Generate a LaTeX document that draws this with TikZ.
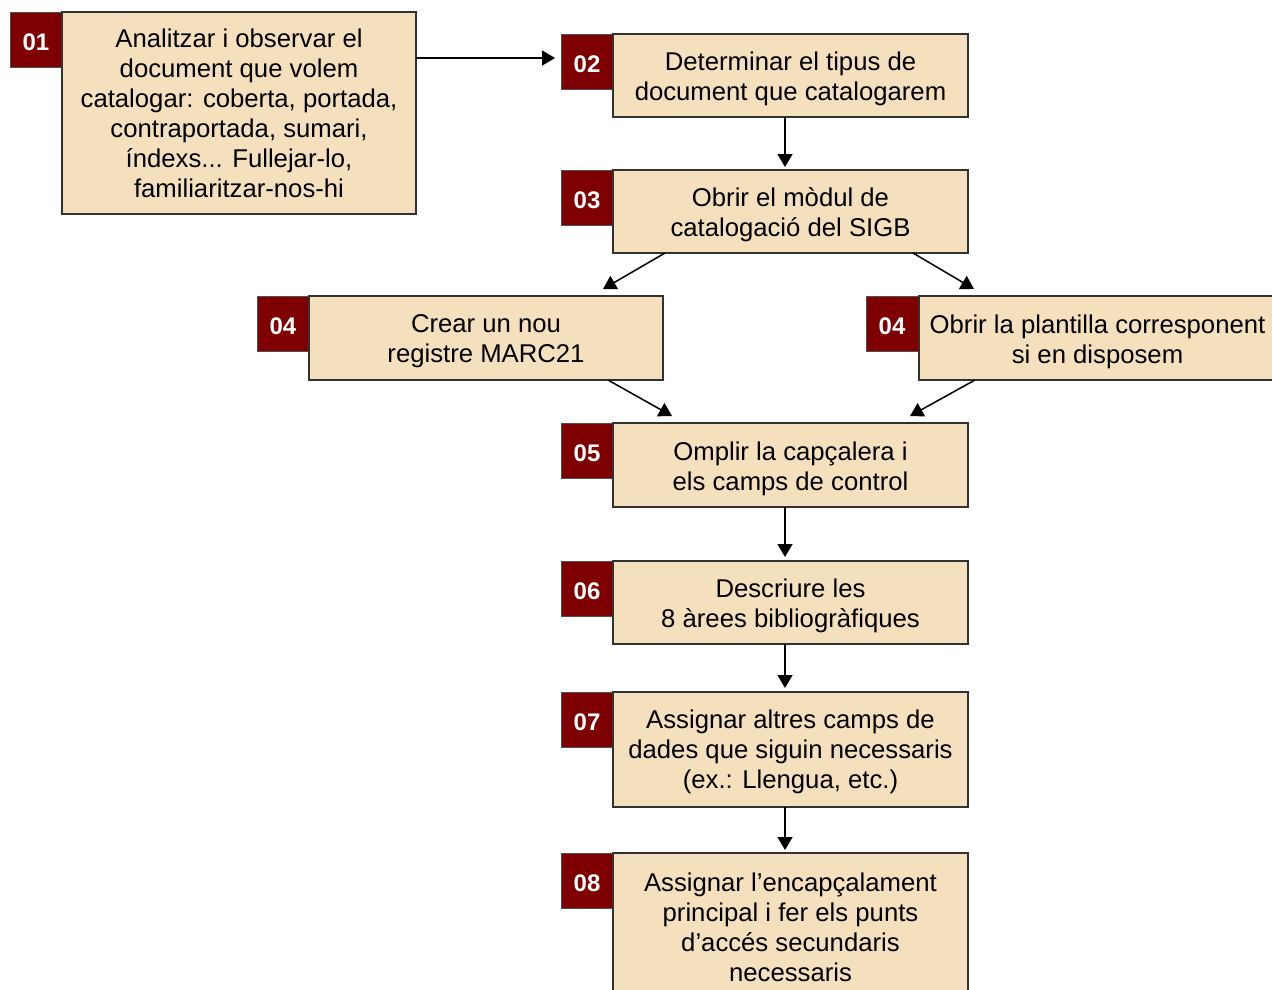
\documentclass[tikz,border=0pt]{standalone}
\usepackage{fontspec}
\setmainfont{Liberation Sans}
\usetikzlibrary{arrows.meta,calc}
\definecolor{boxfill}{RGB}{245,224,190}
\definecolor{badgefill}{RGB}{127,0,0}
\definecolor{edgecol}{RGB}{50,50,50}
\newcommand{\bnum}[1]{\raisebox{-2.5pt}[\height][\depth]{#1}}
\begin{document}
\begin{tikzpicture}[x=1pt,y=-1pt,
  mainbox/.style={draw=edgecol, line width=1.6pt, fill=boxfill, anchor=north west, outer sep=0pt, inner sep=0pt},
  boxtext/.style={align=center, inner sep=0pt, yshift=-3.5pt, font=\fontsize{25.7}{30}\selectfont},
  badge/.style={draw=edgecol!85, line width=1pt, fill=badgefill, anchor=north west, minimum width=52pt, minimum height=55pt, outer sep=0pt, inner sep=0pt, text=white, font=\fontsize{24}{26}\selectfont\bfseries},
  arr/.style={draw=black, line width=1.5pt, -{Triangle[width=15pt,length=13pt]}}]
\useasboundingbox (0,0) rectangle (1272,989);
\clip (0,0) rectangle (1272,989);

% badges
\node[badge] (n1) at (10,12) {\bnum{01}};
\node[badge] (n2) at (561,34) {\bnum{02}};
\node[badge] (n3) at (561,170) {\bnum{03}};
\node[badge] (n4l) at (257,296) {\bnum{04}};
\node[badge] (n4r) at (866,296) {\bnum{04}};
\node[badge] (n5) at (561,423) {\bnum{05}};
\node[badge] (n6) at (561,561) {\bnum{06}};
\node[badge] (n7) at (561,692) {\bnum{07}};
\node[badge] (n8) at (561,853) {\bnum{08}};

% main boxes
\node[mainbox, minimum width=354pt, minimum height=202pt,
  label={[boxtext, yshift=3pt]center:{Analitzar i observar el\\document que volem\\catalogar: coberta, portada,\\contraportada, sumari,\\índexs... Fullejar-lo,\\familiaritzar-nos-hi}}] (b1) at (62,12) {};
\node[mainbox, minimum width=355pt, minimum height=83pt,
  label={[boxtext]center:{Determinar el tipus de\\document que catalogarem}}] (b2) at (613,34) {};
\node[mainbox, minimum width=355pt, minimum height=83pt,
  label={[boxtext]center:{Obrir el mòdul de\\catalogació del SIGB}}] (b3) at (613,170) {};
\node[mainbox, minimum width=354pt, minimum height=84pt,
  label={[boxtext]center:{Crear un nou\\registre MARC21}}] (b4l) at (309,296) {};
\node[mainbox, minimum width=357pt, minimum height=84pt,
  label={[boxtext]center:{Obrir la plantilla corresponent\\si en disposem}}] (b4r) at (919,296) {};
\node[mainbox, minimum width=355pt, minimum height=84pt,
  label={[boxtext]center:{Omplir la capçalera i\\els camps de control}}] (b5) at (613,423) {};
\node[mainbox, minimum width=355pt, minimum height=83pt,
  label={[boxtext]center:{Descriure les\\8 àrees bibliogràfiques}}] (b6) at (613,561) {};
\node[mainbox, minimum width=355pt, minimum height=115pt,
  label={[boxtext, yshift=1pt]center:{Assignar altres camps de\\dades que siguin necessaris\\(ex.: Llengua, etc.)}}] (b7) at (613,692) {};
\node[mainbox, minimum width=355pt, minimum height=148pt,
  label={[boxtext, yshift=3pt]center:{Assignar l’encapçalament\\principal i fer els punts\\d’accés secundaris\\necessaris}}] (b8) at (613,853) {};

% connectors
\draw[arr] ($(b1.north east)+(0,46)$) -- ($(n2.north west)+(-6,24)$);
\draw[arr] ($(b2.south west)+(172,0)$) -- ($(b3.north west)+(172,-3)$);
\draw[arr] ($(b3.south west)+(52,0)$) -- ($(b4l.north east)+(-60,-7)$);
\draw[arr] ($(b3.south east)+(-55,0)$) -- ($(b4r.north west)+(55,-7)$);
\draw[arr] ($(b4l.south east)+(-55,0)$) -- ($(b5.north west)+(59,-7)$);
\draw[arr] ($(b4r.south west)+(56,0)$) -- ($(b5.north east)+(-58,-7)$);
\draw[arr] ($(b5.south west)+(172,0)$) -- ($(b6.north west)+(172,-4)$);
\draw[arr] ($(b6.south west)+(172,0)$) -- ($(b7.north west)+(172,-4)$);
\draw[arr] ($(b7.south west)+(172,0)$) -- ($(b8.north west)+(172,-3)$);
\end{tikzpicture}
\end{document}
